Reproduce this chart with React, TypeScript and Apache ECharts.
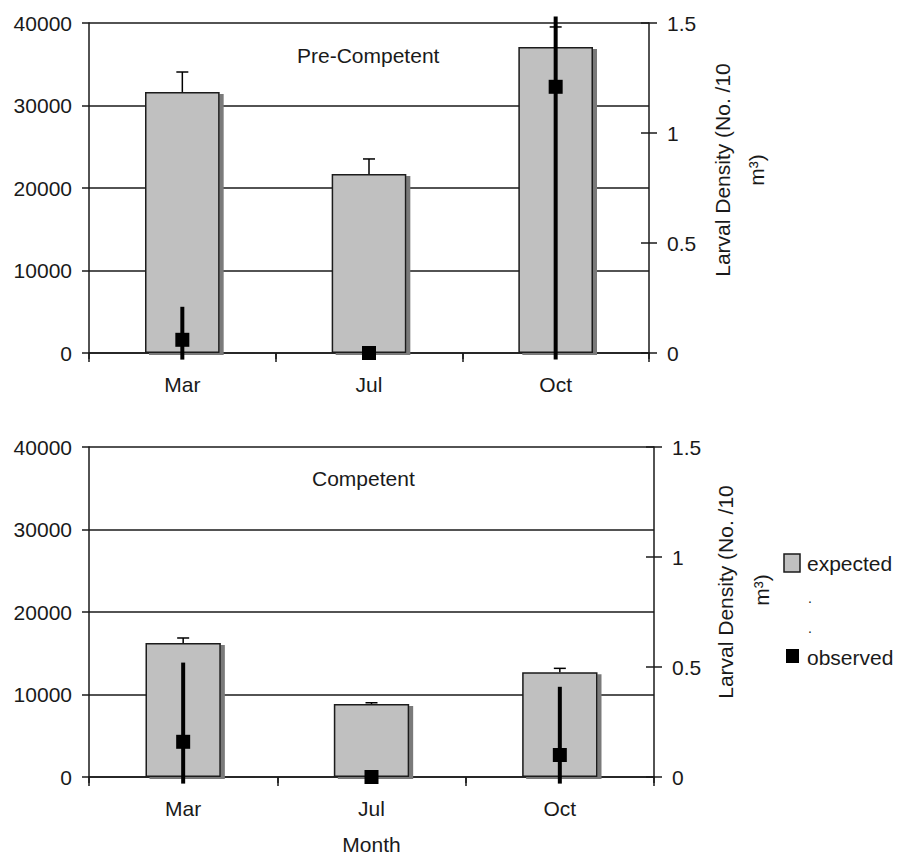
import React, { useEffect, useRef } from "react";
import * as echarts from "echarts";

const categories = ["Mar", "Jul", "Oct"];

const preExpected = [31640, 21700, 37090];
const preExpectedUpper = [34060, 23520, 39520];
const preObserved = [0.06, 0, 1.21];
const preObservedLow = [-0.03, 0, -0.03];
const preObservedHigh = [0.21, 0, 1.53];

const compExpected = [16240, 8850, 12690];
const compExpectedUpper = [16850, 9000, 13170];
const compObserved = [0.16, 0, 0.1];
const compObservedLow = [-0.03, 0, -0.03];
const compObservedHigh = [0.52, 0, 0.41];

const leftMin = 0;
const leftMax = 40000;
const leftInterval = 10000;
const rightMin = 0;
const rightMax = 1.5;
const rightInterval = 0.5;

const panelTitles = ["Pre-Competent", "Competent"];
const rightAxisName = ["Larval Density (No. /10", "m\u00B3)"];
const xAxisName = "Month";
const legendNames = ["expected", "observed"];

const FONT = "'Liberation Sans', Arial, sans-serif";
const INK = "#1a1a1a";
const FS = 21;

function errRender(capWidth: number, lineWidth: number, withCap: boolean) {
  return (params: any, api: any) => {
    const x = api.value(0);
    const lo = api.value(1);
    const hi = api.value(2);
    if (lo === hi) return { type: "group", children: [] };
    const p1 = api.coord([x, lo]);
    const p2 = api.coord([x, hi]);
    const children: any[] = [
      {
        type: "line",
        shape: { x1: p1[0], y1: p1[1], x2: p2[0], y2: p2[1] },
        style: { stroke: "#000", lineWidth },
      },
    ];
    if (withCap) {
      children.push({
        type: "line",
        shape: { x1: p2[0] - capWidth / 2, y1: p2[1], x2: p2[0] + capWidth / 2, y2: p2[1] },
        style: { stroke: "#000", lineWidth: 1.5 },
      });
    }
    return { type: "group", children };
  };
}

export default function App() {
  const ref = useRef<HTMLDivElement>(null);
  useEffect(() => {
    if (!ref.current) return;
    const chart = echarts.init(ref.current, null, { renderer: "svg" });

    const grids = [
      { left: 89, top: 23, width: 560, height: 330 },
      { left: 89, top: 447, width: 565, height: 330 },
    ];

    const xAxes: any[] = [];
    grids.forEach((_, i) => {
      xAxes.push({
        type: "category",
        gridIndex: i,
        data: categories,
        boundaryGap: true,
        axisLine: { show: true, lineStyle: { color: INK, width: 1.5 } },
        axisTick: { show: true, alignWithLabel: false, length: 9, lineStyle: { color: INK, width: 1.5 } },
        axisLabel: { color: INK, fontSize: FS, fontFamily: FONT, margin: 21 },
        splitLine: { show: false },
        name: i === 1 ? xAxisName : "",
        nameLocation: "middle",
        nameGap: 57,
        nameTextStyle: { color: INK, fontSize: FS, fontFamily: FONT },
      });
    });
    grids.forEach((_, i) => {
      xAxes.push({
        type: "category",
        gridIndex: i,
        data: categories,
        boundaryGap: true,
        axisLine: { show: false },
        axisTick: { show: true, inside: true, alignWithLabel: false, length: 6, lineStyle: { color: INK, width: 1.5 } },
        axisLabel: { show: false },
        splitLine: { show: false },
      });
    });

    const yAxes: any[] = [];
    grids.forEach((_, i) => {
      yAxes.push({
        type: "value",
        gridIndex: i,
        position: "left",
        min: leftMin,
        max: leftMax,
        interval: leftInterval,
        axisLine: { show: true, lineStyle: { color: INK, width: 1.5 } },
        axisTick: { show: true, length: 7, lineStyle: { color: INK, width: 1.5 } },
        axisLabel: { color: INK, fontSize: FS, fontFamily: FONT, margin: 17, formatter: (v: number) => String(v) },
        splitLine: { show: true, lineStyle: { color: INK, width: 1.5 } },
      });
      yAxes.push({
        type: "value",
        gridIndex: i,
        position: "right",
        min: rightMin,
        max: rightMax,
        interval: rightInterval,
        axisLine: { show: true, lineStyle: { color: INK, width: 1.5 } },
        axisTick: { show: true, length: 8, lineStyle: { color: INK, width: 1.5 } },
        axisLabel: { color: INK, fontSize: FS, fontFamily: FONT, margin: 18, formatter: (v: number) => String(v) },
        splitLine: { show: false },
      });
      yAxes.push({
        type: "value",
        gridIndex: i,
        position: "right",
        min: rightMin,
        max: rightMax,
        interval: rightInterval,
        axisLine: { show: false },
        axisTick: { show: true, inside: true, length: 8, lineStyle: { color: INK, width: 1.5 } },
        axisLabel: { show: false },
        splitLine: { show: false },
      });
    });

    const panels = [
      {
        expected: preExpected,
        upper: preExpectedUpper,
        observed: preObserved,
        low: preObservedLow,
        high: preObservedHigh,
      },
      {
        expected: compExpected,
        upper: compExpectedUpper,
        observed: compObserved,
        low: compObservedLow,
        high: compObservedHigh,
      },
    ];

    const series: any[] = [];
    panels.forEach((p, i) => {
      series.push({
        type: "bar",
        name: legendNames[0],
        xAxisIndex: i,
        yAxisIndex: i * 3,
        data: p.expected,
        barWidth: "40%",
        z: 2,
        itemStyle: {
          color: "#c0c0c0",
          borderColor: INK,
          borderWidth: 1.5,
          shadowColor: "#7a7a7a",
          shadowOffsetX: 4,
          shadowOffsetY: 2,
          shadowBlur: 0,
        },
      });
      series.push({
        type: "custom",
        xAxisIndex: i,
        yAxisIndex: i * 3,
        z: 3,
        renderItem: errRender(12, 1.5, true),
        data: p.expected.map((v, k) => [k, v, p.upper[k]]),
        encode: { x: 0, y: [1, 2] },
      });
      series.push({
        type: "custom",
        xAxisIndex: i,
        yAxisIndex: i * 3 + 1,
        z: 4,
        renderItem: errRender(0, 4, false),
        data: p.observed.map((v, k) => [k, p.low[k], p.high[k]]),
        encode: { x: 0, y: [1, 2] },
      });
      series.push({
        type: "scatter",
        name: legendNames[1],
        xAxisIndex: i,
        yAxisIndex: i * 3 + 1,
        symbol: "rect",
        symbolSize: 14,
        z: 5,
        itemStyle: { color: "#000", opacity: 1 },
        data: p.observed.map((v, k) => [k, v]),
      });
    });

    const textStyle = (extra: any) => ({
      fill: INK,
      fontSize: FS,
      fontFamily: FONT,
      ...extra,
    });

    const graphic: any[] = [
      { type: "text", x: 297, y: 55, style: textStyle({ text: panelTitles[0], verticalAlign: "middle", align: "left" }) },
      { type: "text", x: 312, y: 478, style: textStyle({ text: panelTitles[1], verticalAlign: "middle", align: "left" }) },
      { type: "text", x: 722, y: 170, rotation: Math.PI / 2, style: textStyle({ text: rightAxisName[0], align: "center", verticalAlign: "middle" }) },
      { type: "text", x: 756, y: 170, rotation: Math.PI / 2, style: textStyle({ text: rightAxisName[1], align: "center", verticalAlign: "middle" }) },
      { type: "text", x: 725, y: 592, rotation: Math.PI / 2, style: textStyle({ text: rightAxisName[0], align: "center", verticalAlign: "middle" }) },
      { type: "text", x: 761, y: 590, rotation: Math.PI / 2, style: textStyle({ text: rightAxisName[1], align: "center", verticalAlign: "middle" }) },
      { type: "rect", shape: { x: 784, y: 554, width: 16, height: 18 }, style: { fill: "#c0c0c0", stroke: INK, lineWidth: 1.5 } },
      { type: "text", x: 807, y: 563, style: textStyle({ text: legendNames[0], verticalAlign: "middle", align: "left" }) },
      { type: "text", x: 808, y: 598, style: textStyle({ text: ".", verticalAlign: "middle", align: "left", fontSize: 14 }) },
      { type: "text", x: 808, y: 628, style: textStyle({ text: ".", verticalAlign: "middle", align: "left", fontSize: 14 }) },
      { type: "rect", shape: { x: 786, y: 649, width: 13, height: 14 }, style: { fill: "#000" } },
      { type: "text", x: 807, y: 657, style: textStyle({ text: legendNames[1], verticalAlign: "middle", align: "left" }) },
    ];

    chart.setOption({
      animation: false,
      backgroundColor: "#fff",
      textStyle: { fontFamily: FONT },
      grid: grids,
      xAxis: xAxes,
      yAxis: yAxes,
      series,
      graphic,
    });
    return () => chart.dispose();
  }, []);

  return (
    <div
      ref={ref}
      style={{ position: "fixed", left: 0, top: 0, width: 901, height: 857, background: "#fff" }}
    />
  );
}
